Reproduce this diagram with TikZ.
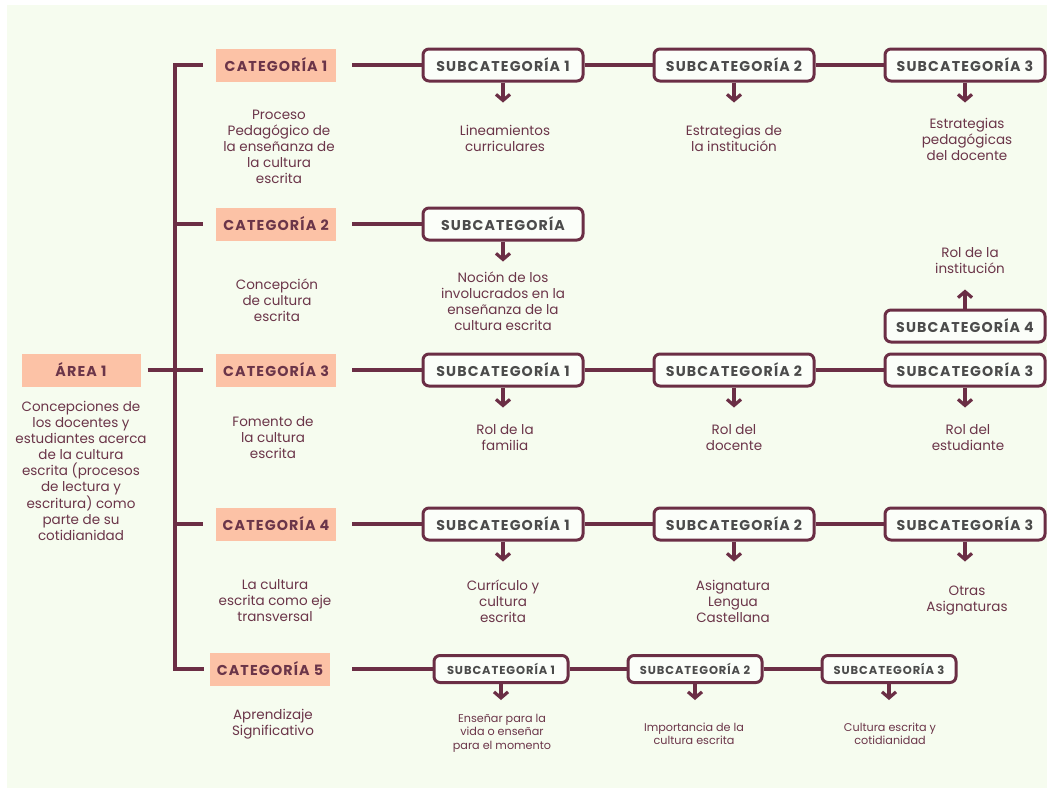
\documentclass[tikz,border=0pt]{standalone}
\usepackage{fontspec}
\usepackage{tikz}
\usetikzlibrary{positioning, arrows.meta}
\setmainfont{Poppins}
\newfontfamily\capsfont[LetterSpace=8]{Poppins}
\definecolor{mBg}{HTML}{F6FCEF}
\definecolor{mLine}{HTML}{6B2E45}
\definecolor{mInk}{HTML}{6B3549}
\definecolor{mPeach}{HTML}{FCC2A6}
\definecolor{mGray}{HTML}{4B4B4B}

\begin{document}
\begin{tikzpicture}[x=1pt, y=-1pt,
  cat/.style={fill=mPeach, text=mInk, minimum width=120pt, minimum height=33pt,
              inner sep=0pt, font=\capsfont\fontsize{14.3}{16}\selectfont\bfseries},
  sub/.style={draw=mLine, line width=3pt, rounded corners=6pt, fill=white!60!mBg,
              text=mGray, minimum width=160pt, minimum height=32pt, inner sep=0pt,
              font=\capsfont\fontsize{14.2}{15}\selectfont\bfseries},
  subs/.style={sub, minimum width=134pt, minimum height=27pt,
               font=\capsfont\fontsize{11.5}{12}\selectfont\bfseries},
  desc/.style={text=mInk, align=center, font=\fontsize{13.5}{16}\selectfont},
  descs/.style={text=mInk, align=center, font=\fontsize{11.2}{13.5}\selectfont},
  link/.style={draw=mLine, line width=3.5pt},
  arr/.style={draw=mLine, line width=3.2pt, -{Straight Barb[length=6pt, width=14pt, line width=3.2pt]}},
]
  \useasboundingbox (0,0) rectangle (1047,788);
  \fill[white] (0,0) rectangle (1047,788);
  \fill[mBg] (7,5) rectangle (1047,788);

  % area
  \node[cat, minimum width=119pt] (area) at (81,370) {ÁREA 1};
  \node[desc] (areaTxt) at (81,471) {Concepciones de\\los docentes y\\estudiantes acerca\\de la cultura\\escrita (procesos\\de lectura y\\escritura) como\\parte de su\\cotidianidad};

  % categories
  \node[cat] (cat1) at (276,65) {CATEGORÍA 1};
  \node[cat] (cat2) at (276,224) {CATEGORÍA 2};
  \node[cat] (cat3) at (276,370) {CATEGORÍA 3};
  \node[cat] (cat4) at (276,524) {CATEGORÍA 4};
  \node[cat] (cat5) at (270,669) {CATEGORÍA 5};
  \node[desc] (cat1Txt) at (279,147) {Proceso\\Pedagógico de\\la enseñanza de\\la cultura\\escrita};
  \node[desc] (cat2Txt) at (277,300) {Concepción\\de cultura\\escrita};
  \node[desc] (cat3Txt) at (273,438) {Fomento de\\la cultura\\escrita};
  \node[desc] (cat4Txt) at (275,601) {La cultura\\escrita como eje\\transversal};
  \node[desc] (cat5Txt) at (273,724) {Aprendizaje\\Significativo};

  % spine
  \draw[link] ([xshift=-13pt]cat1.west) -| ([xshift=-35pt]cat5.west) -- ([xshift=-6pt]cat5.west);
  \draw[link] ([xshift=-13pt]cat2.west) -- ([xshift=-40pt]cat2.west);
  \draw[link] ([xshift=-13pt]cat4.west) -- ([xshift=-40pt]cat4.west);
  \draw[link] ([xshift=7pt]area.east) -- ([xshift=-13pt]cat3.west);

  % row 1
  \node[sub] (s11) at (503,65) {SUBCATEGORÍA 1};
  \node[sub] (s12) at (734,65) {SUBCATEGORÍA 2};
  \node[sub] (s13) at (965,65) {SUBCATEGORÍA 3};
  \node[desc] (t11) at (505,138) {Lineamientos\\curriculares};
  \node[desc] (t12) at (734,138) {Estrategias de\\la institución};
  \node[desc] (t13) at (967,139) {Estrategias\\pedagógicas\\del docente};
  \draw[link] ([xshift=16pt]cat1.east) -- (s11.west);
  \draw[link] (s11) -- (s12);
  \draw[link] (s12) -- (s13);
  \draw[arr] (s11.south) -- ++(0,20);
  \draw[arr] (s12.south) -- ++(0,20);
  \draw[arr] (s13.south) -- ++(0,20);

  % row 2
  \node[sub] (s21) at (503,224) {SUBCATEGORÍA};
  \node[desc] (t21) at (503,301) {Noción de los\\involucrados en la\\enseñanza de la\\cultura escrita};
  \draw[link] ([xshift=16pt]cat2.east) -- (s21.west);
  \draw[arr] (s21.south) -- ++(0,20);

  % row 3
  \node[sub] (s31) at (503,370) {SUBCATEGORÍA 1};
  \node[sub] (s32) at (734,370) {SUBCATEGORÍA 2};
  \node[sub] (s33) at (965,370) {SUBCATEGORÍA 3};
  \node[sub] (s34) at (965,326) {SUBCATEGORÍA 4};
  \node[desc] (t31) at (505,438) {Rol de la\\familia};
  \node[desc] (t32) at (734,438) {Rol del\\docente};
  \node[desc] (t33) at (968,438) {Rol del\\estudiante};
  \node[desc] (t34) at (970,261) {Rol de la\\institución};
  \draw[link] ([xshift=16pt]cat3.east) -- (s31.west);
  \draw[link] (s31) -- (s32);
  \draw[link] (s32) -- (s33);
  \draw[arr] (s31.south) -- ++(0,20);
  \draw[arr] (s32.south) -- ++(0,20);
  \draw[arr] (s33.south) -- ++(0,20);
  \draw[arr] (s34.north) -- ++(0,-19);

  % row 4
  \node[sub] (s41) at (503,524) {SUBCATEGORÍA 1};
  \node[sub] (s42) at (734,524) {SUBCATEGORÍA 2};
  \node[sub] (s43) at (965,524) {SUBCATEGORÍA 3};
  \node[desc] (t41) at (503,601) {Currículo y\\cultura\\escrita};
  \node[desc] (t42) at (733,601) {Asignatura\\Lengua\\Castellana};
  \node[desc] (t43) at (967,601) {Otras\\Asignaturas};
  \draw[link] ([xshift=16pt]cat4.east) -- (s41.west);
  \draw[link] (s41) -- (s42);
  \draw[link] (s42) -- (s43);
  \draw[arr] (s41.south) -- ++(0,20);
  \draw[arr] (s42.south) -- ++(0,20);
  \draw[arr] (s43.south) -- ++(0,20);

  % row 5
  \node[subs] (s51) at (501,669) {SUBCATEGORÍA 1};
  \node[subs] (s52) at (695,669) {SUBCATEGORÍA 2};
  \node[subs] (s53) at (889,669) {SUBCATEGORÍA 3};
  \node[descs] (t51) at (502,733) {Enseñar para la\\vida o enseñar\\para el momento};
  \node[descs] (t52) at (694,734) {Importancia de la\\cultura escrita};
  \node[descs] (t53) at (890,734) {Cultura escrita y\\cotidianidad};
  \draw[link] ([xshift=22pt]cat5.east) -- (s51.west);
  \draw[link] (s51) -- (s52);
  \draw[link] (s52) -- (s53);
  \draw[arr] (s51.south) -- ++(0,16);
  \draw[arr] (s52.south) -- ++(0,16);
  \draw[arr] (s53.south) -- ++(0,16);
\end{tikzpicture}
\end{document}
